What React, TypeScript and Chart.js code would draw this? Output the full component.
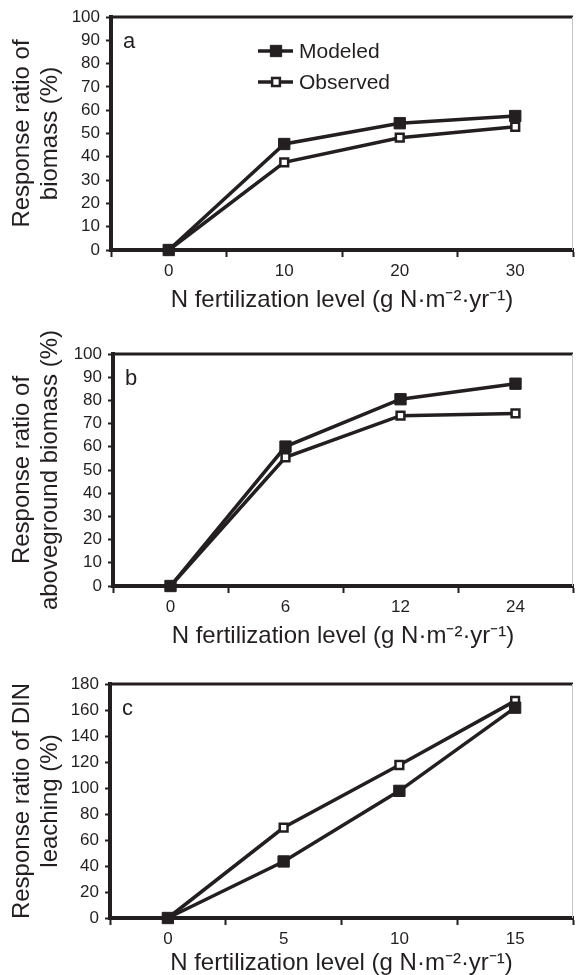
import React, { useEffect, useRef } from 'react';
import { Chart, registerables } from 'chart.js';

Chart.register(...registerables);

// ---------- data ----------
const seriesNames = ['Modeled', 'Observed'];

const levelsA = ['0', '10', '20', '30'];
const modeledA = [0, 45.5, 54.4, 57.5];
const observedA = [0, 37.6, 48.2, 52.9];

const levelsB = ['0', '6', '12', '24'];
const modeledB = [0, 60.1, 80.5, 87.2];
const observedB = [0, 55.5, 73.4, 74.4];

const levelsC = ['0', '5', '10', '15'];
const modeledC = [0, 43.5, 97.8, 161.8];
const observedC = [0, 69.6, 117.7, 167];

const yTitleA = ['Response ratio of', 'biomass (%)'];
const yTitleB = ['Response ratio of', 'aboveground biomass (%)'];
const yTitleC = ['Response ratio of DIN', 'leaching (%)'];
const xTitle = 'N fertilization level (g N\u00B7m\u207B\u00B2\u00B7yr\u207B\u00B9)';

const yMaxA = 100;
const yMaxB = 100;
const yMaxC = 180;
const yStepA = 10;
const yStepB = 10;
const yStepC = 20;

// ---------- style ----------
const INK = '#231f20';
const FAMILY = '"Liberation Sans", Arial, Helvetica, sans-serif';

const framePlugin = {
  id: 'frame',
  afterDraw(chart: any, _args: any, opts: any) {
    const { ctx, chartArea } = chart;
    const { left, top, right, bottom } = chartArea;
    ctx.save();
    // top border
    ctx.strokeStyle = INK;
    ctx.lineWidth = 3;
    ctx.beginPath();
    ctx.moveTo(left - 2, top);
    ctx.lineTo(right, top);
    ctx.stroke();
    // right border (faint)
    ctx.strokeStyle = '#c4c4c4';
    ctx.lineWidth = 1;
    ctx.beginPath();
    ctx.moveTo(right - 0.5, top);
    ctx.lineTo(right - 0.5, bottom);
    ctx.stroke();
    // panel letter
    ctx.fillStyle = INK;
    ctx.font = `22px ${FAMILY}`;
    ctx.textBaseline = 'alphabetic';
    ctx.textAlign = 'left';
    ctx.fillText(opts.letter, left + 12, top + 31);
    // inside legend
    if (opts.legend) {
      chart.data.datasets.forEach((ds: any, i: number) => {
        const y = top + 34 + i * 31;
        const x0 = left + 147;
        const x1 = left + 182;
        const xm = left + 165;
        ctx.strokeStyle = ds.borderColor;
        ctx.lineWidth = ds.borderWidth;
        ctx.beginPath();
        ctx.moveTo(x0, y);
        ctx.lineTo(x1, y);
        ctx.stroke();
        const half = ds.pointRadius * Math.SQRT1_2;
        ctx.fillStyle = ds.pointBackgroundColor;
        ctx.strokeStyle = ds.pointBorderColor;
        ctx.lineWidth = ds.pointBorderWidth;
        ctx.beginPath();
        ctx.rect(xm - half, y - half, half * 2, half * 2);
        ctx.fill();
        ctx.stroke();
        ctx.fillStyle = INK;
        ctx.font = `21px ${FAMILY}`;
        ctx.textBaseline = 'middle';
        ctx.fillText(ds.label, left + 188, y + 1);
      });
    }
    ctx.restore();
  },
};

type PanelCfg = {
  top: number;
  height: number;
  padTop: number;
  padBottom: number;
  axisWidth: number;
  titlePadBottom: number;
  letter: string;
  legend: boolean;
  labels: string[];
  modeled: number[];
  observed: number[];
  yMax: number;
  yStep: number;
  yTitle: string[];
};

function Panel({ cfg }: { cfg: PanelCfg }) {
  const ref = useRef<HTMLCanvasElement>(null);
  useEffect(() => {
    const chart = new Chart(ref.current as HTMLCanvasElement, {
      type: 'line',
      data: {
        labels: cfg.labels,
        datasets: [
          {
            label: seriesNames[0],
            data: cfg.modeled,
            borderColor: INK,
            borderWidth: 3.5,
            pointStyle: 'rect',
            pointRadius: 8,
            pointBackgroundColor: INK,
            pointBorderColor: INK,
            pointBorderWidth: 1,
            tension: 0,
            clip: false,
          } as any,
          {
            label: seriesNames[1],
            data: cfg.observed,
            borderColor: INK,
            borderWidth: 3.5,
            pointStyle: 'rect',
            pointRadius: 5.5,
            pointBackgroundColor: '#ffffff',
            pointBorderColor: INK,
            pointBorderWidth: 2.5,
            tension: 0,
            clip: false,
          } as any,
        ],
      },
      options: {
        responsive: false,
        animation: false,
        events: [],
        layout: { padding: { top: cfg.padTop, bottom: cfg.padBottom, left: 0, right: 1 } },
        plugins: {
          legend: { display: false },
          tooltip: { enabled: false },
          frame: { letter: cfg.letter, legend: cfg.legend },
        } as any,
        scales: {
          x: {
            type: 'category',
            offset: true,
            afterFit: (s: any) => {
              s.height = 70;
            },
            grid: {
              offset: true,
              drawOnChartArea: false,
              drawTicks: true,
              tickLength: 7,
              tickWidth: 2,
              tickColor: INK,
            },
            border: { display: true, width: 4, color: INK },
            ticks: {
              color: INK,
              font: { family: FAMILY, size: 17 },
              padding: 4,
              maxRotation: 0,
              autoSkip: false,
            },
            title: {
              display: true,
              text: xTitle,
              color: INK,
              font: { family: FAMILY, size: 24, lineHeight: 1.25 },
              padding: { top: 0, bottom: cfg.titlePadBottom },
            },
          },
          y: {
            type: 'linear',
            min: 0,
            max: cfg.yMax,
            afterFit: (s: any) => {
              s.width = cfg.axisWidth;
            },
            grid: {
              drawOnChartArea: false,
              drawTicks: true,
              tickLength: 5,
              tickWidth: 2,
              tickColor: INK,
            },
            border: { display: true, width: 4, color: INK },
            ticks: {
              stepSize: cfg.yStep,
              color: INK,
              font: { family: FAMILY, size: 17 },
              padding: 6,
              autoSkip: false,
            },
            title: {
              display: true,
              text: cfg.yTitle,
              color: INK,
              font: { family: FAMILY, size: 24, lineHeight: 1.1667 },
              padding: { top: 8, bottom: 0 },
            },
          },
        },
      } as any,
      plugins: [framePlugin],
    });
    return () => chart.destroy();
  }, []);
  return (
    <div style={{ position: 'absolute', left: 0, top: cfg.top, width: 582, height: cfg.height }}>
      <canvas ref={ref} width={582} height={cfg.height} style={{ display: 'block' }} />
    </div>
  );
}

const panels: PanelCfg[] = [
  {
    top: 0, height: 330, padTop: 17, padBottom: 10, axisWidth: 111, titlePadBottom: 5,
    letter: 'a', legend: true, labels: levelsA, modeled: modeledA, observed: observedA,
    yMax: yMaxA, yStep: yStepA, yTitle: yTitleA,
  },
  {
    top: 330, height: 330, padTop: 24, padBottom: 4, axisWidth: 113, titlePadBottom: 5,
    letter: 'b', legend: false, labels: levelsB, modeled: modeledB, observed: observedB,
    yMax: yMaxB, yStep: yStepB, yTitle: yTitleB,
  },
  {
    top: 660, height: 340, padTop: 24, padBottom: 12, axisWidth: 110, titlePadBottom: 10,
    letter: 'c', legend: false, labels: levelsC, modeled: modeledC, observed: observedC,
    yMax: yMaxC, yStep: yStepC, yTitle: yTitleC,
  },
];

export default function App() {
  return (
    <div
      style={{
        position: 'absolute',
        left: 0,
        top: 0,
        width: 582,
        height: 975,
        overflow: 'hidden',
        background: '#ffffff',
      }}
    >
      {panels.map((p) => (
        <Panel key={p.letter} cfg={p} />
      ))}
    </div>
  );
}
